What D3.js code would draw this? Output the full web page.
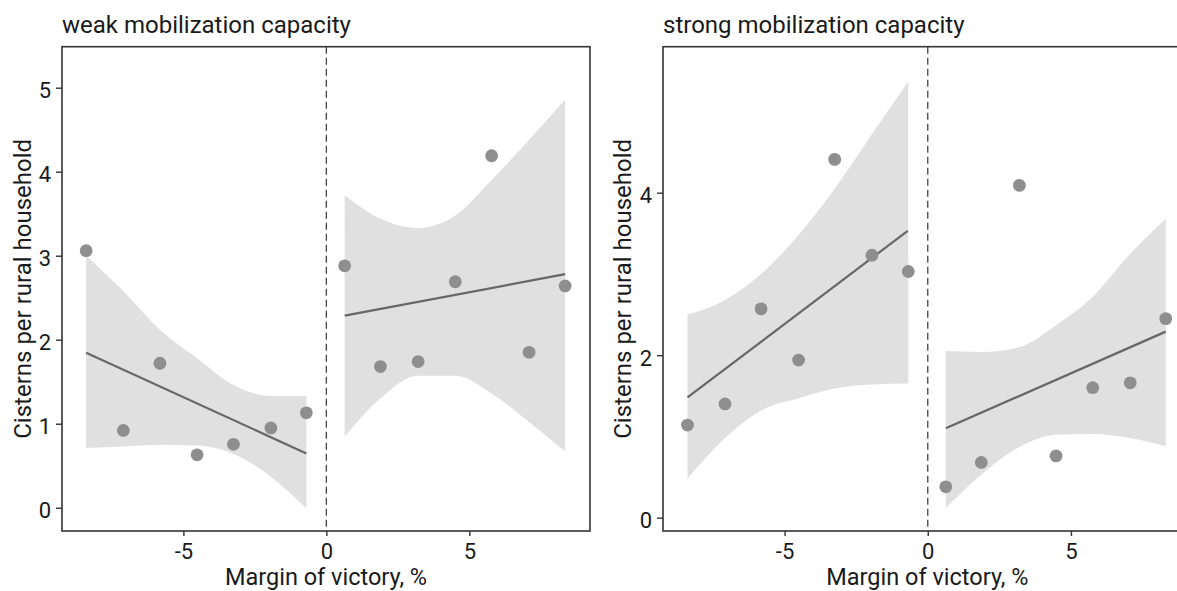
<!DOCTYPE html>
<html>
<head>
<meta charset="utf-8">
<script src="https://cdn.jsdelivr.net/npm/d3@7"></script>
<style>
  html, body { margin: 0; padding: 0; background: #ffffff; }
  svg { display: block; font-family: Roboto, "Noto Sans", sans-serif; }
</style>
</head>
<body>
<svg id="chart" width="1177" height="591"></svg>
<script>
// Binned means of cisterns per rural household by margin of victory (%)
const weakLeftX  = [-8.40, -7.10, -5.82, -4.52, -3.25, -1.94, -0.70];
const weakLeftY  = [3.06, 0.92, 1.72, 0.63, 0.755, 0.95, 1.13];
const weakRightX = [0.64, 1.89, 3.21, 4.51, 5.78, 7.09, 8.35];
const weakRightY = [2.88, 1.68, 1.74, 2.69, 4.19, 1.85, 2.64];

const strongLeftX  = [-8.39, -7.08, -5.82, -4.51, -3.25, -1.95, -0.68];
const strongLeftY  = [1.14, 1.40, 2.57, 1.94, 4.41, 3.23, 3.03];
const strongRightX = [0.63, 1.87, 3.20, 4.48, 5.76, 7.07, 8.31];
const strongRightY = [0.38, 0.68, 4.09, 0.76, 1.60, 1.66, 2.45];

// Linear fits on each side of the cutoff: [x, y] at the ends of the fitted range
const weakLeftFit    = [[-8.40, 1.845], [-0.70, 0.647]];
const weakRightFit   = [[0.64, 2.286], [8.35, 2.78]];
const strongLeftFit  = [[-8.39, 1.48], [-0.70, 3.53]];
const strongRightFit = [[0.63, 1.10], [8.31, 2.29]];

// Confidence bands, evaluated at the bin positions
const weakLeftUpper    = [3.00, 2.58, 2.12, 1.78, 1.46, 1.33, 1.33];
const weakLeftLower    = [0.71, 0.73, 0.75, 0.74, 0.64, 0.37, -0.01];
const weakRightUpper   = [3.72, 3.44, 3.33, 3.48, 3.90, 4.38, 4.86];
const weakRightLower   = [0.845, 1.30, 1.57, 1.57, 1.36, 1.02, 0.67];
const strongLeftUpper  = [2.50, 2.68, 3.00, 3.48, 4.05, 4.72, 5.37];
const strongLeftLower  = [0.48, 0.98, 1.32, 1.47, 1.59, 1.64, 1.65];
const strongRightUpper = [2.05, 2.04, 2.10, 2.37, 2.72, 3.25, 3.68];
const strongRightLower = [0.115, 0.53, 0.87, 1.02, 1.03, 0.98, 0.88];

// Axis ticks and labels
const xTicks = [-5, 0, 5];
const weakYTicks = [0, 1, 2, 3, 4, 5];
const strongYTicks = [0, 2, 4];
const panelTitles = ["weak mobilization capacity", "strong mobilization capacity"];
const xTitle = "Margin of victory, %";
const yTitle = "Cisterns per rural household";

const svg = d3.select("#chart");

const COL_BAND = "#e0e0e0";
const COL_LINE = "#676767";
const COL_POINT = "#8e8e8e";
const COL_AXIS = "#333333";
const COL_TEXT = "#1a1a1a";
const TITLE_SIZE = "24px";
const AXIS_TITLE_SIZE = "23.5px";
const TICK_SIZE = "22px";

function drawPanel(opt) {
  const g = svg.append("g");
  const x = d3.scaleLinear().domain(opt.xDomain).range([opt.left, opt.right]);
  const y = d3.scaleLinear().domain(opt.yDomain).range([opt.bottom, opt.top]);

  const clipId = "clip-" + opt.id;
  svg.append("clipPath").attr("id", clipId)
    .append("rect").attr("x", opt.left).attr("y", opt.top)
    .attr("width", opt.right - opt.left).attr("height", opt.bottom - opt.top);

  const plot = g.append("g").attr("clip-path", `url(#${clipId})`);

  const area = d3.area().curve(d3.curveMonotoneX)
    .x(d => x(d.x)).y0(d => y(d.lo)).y1(d => y(d.hi));
  const line = d3.line().x(d => x(d[0])).y(d => y(d[1]));

  opt.sides.forEach(s => {
    const band = s.x.map((v, i) => ({ x: v, lo: s.lower[i], hi: s.upper[i] }));
    plot.append("path").datum(band)
      .attr("d", area).attr("fill", COL_BAND);
  });

  // cutoff at zero margin
  plot.append("line")
    .attr("x1", x(0)).attr("x2", x(0))
    .attr("y1", opt.top).attr("y2", opt.bottom)
    .attr("stroke", "#444").attr("stroke-width", 1.3)
    .attr("stroke-dasharray", "7,4");

  opt.sides.forEach(s => {
    plot.append("path").datum(s.fit)
      .attr("d", line).attr("fill", "none")
      .attr("stroke", COL_LINE).attr("stroke-width", 2.2);
  });

  opt.sides.forEach(s => {
    plot.selectAll(null).data(s.x.map((v, i) => [v, s.y[i]]))
      .enter().append("circle")
      .attr("cx", d => x(d[0])).attr("cy", d => y(d[1]))
      .attr("r", 6.4).attr("fill", COL_POINT);
  });

  // panel frame
  g.append("rect")
    .attr("x", opt.left).attr("y", opt.top)
    .attr("width", opt.right - opt.left).attr("height", opt.bottom - opt.top)
    .attr("fill", "none").attr("stroke", COL_AXIS).attr("stroke-width", 1.6);

  // axes
  const xAxis = g.append("g").attr("transform", `translate(0,${opt.bottom})`)
    .call(d3.axisBottom(x).tickValues(xTicks).tickSize(5).tickPadding(7)
      .tickFormat(d => String(d)));
  const yAxis = g.append("g").attr("transform", `translate(${opt.left},0)`)
    .call(d3.axisLeft(y).tickValues(opt.yTicks).tickSize(6).tickPadding(5)
      .tickFormat(d => String(d)));

  [xAxis, yAxis].forEach(a => {
    a.select(".domain").remove();
    a.selectAll(".tick line").attr("stroke", COL_AXIS).attr("stroke-width", 1.4);
    a.selectAll(".tick text").attr("fill", COL_TEXT)
      .style("font-size", TICK_SIZE).style("font-family", "Roboto, sans-serif");
  });
  yAxis.selectAll(".tick text").attr("dy", "0.45em");

  // titles
  g.append("text")
    .attr("x", opt.left).attr("y", 33)
    .attr("fill", COL_TEXT).style("font-size", TITLE_SIZE)
    .text(opt.title);

  g.append("text")
    .attr("x", (opt.left + opt.right) / 2).attr("y", 584.5)
    .attr("text-anchor", "middle")
    .attr("fill", COL_TEXT).style("font-size", AXIS_TITLE_SIZE)
    .text(xTitle);

  g.append("text")
    .attr("transform", `translate(${opt.yTitleX},${(opt.top + opt.bottom) / 2}) rotate(-90)`)
    .attr("text-anchor", "middle")
    .attr("fill", COL_TEXT).style("font-size", TITLE_SIZE)
    .text(yTitle);
}

drawPanel({
  id: "weak",
  left: 62, right: 590, top: 46.7, bottom: 531,
  xDomain: [-9.245, 9.22], yDomain: [-0.277, 5.488],
  yTicks: weakYTicks, title: panelTitles[0], yTitleX: 30.5,
  sides: [
    { x: weakLeftX, y: weakLeftY, fit: weakLeftFit, upper: weakLeftUpper, lower: weakLeftLower },
    { x: weakRightX, y: weakRightY, fit: weakRightFit, upper: weakRightUpper, lower: weakRightLower }
  ]
});

drawPanel({
  id: "strong",
  left: 663, right: 1191.8, top: 46.7, bottom: 531,
  xDomain: [-9.245, 9.22], yDomain: [-0.164, 5.797],
  yTicks: strongYTicks, title: panelTitles[1], yTitleX: 631,
  sides: [
    { x: strongLeftX, y: strongLeftY, fit: strongLeftFit, upper: strongLeftUpper, lower: strongLeftLower },
    { x: strongRightX, y: strongRightY, fit: strongRightFit, upper: strongRightUpper, lower: strongRightLower }
  ]
});
</script>
</body>
</html>
